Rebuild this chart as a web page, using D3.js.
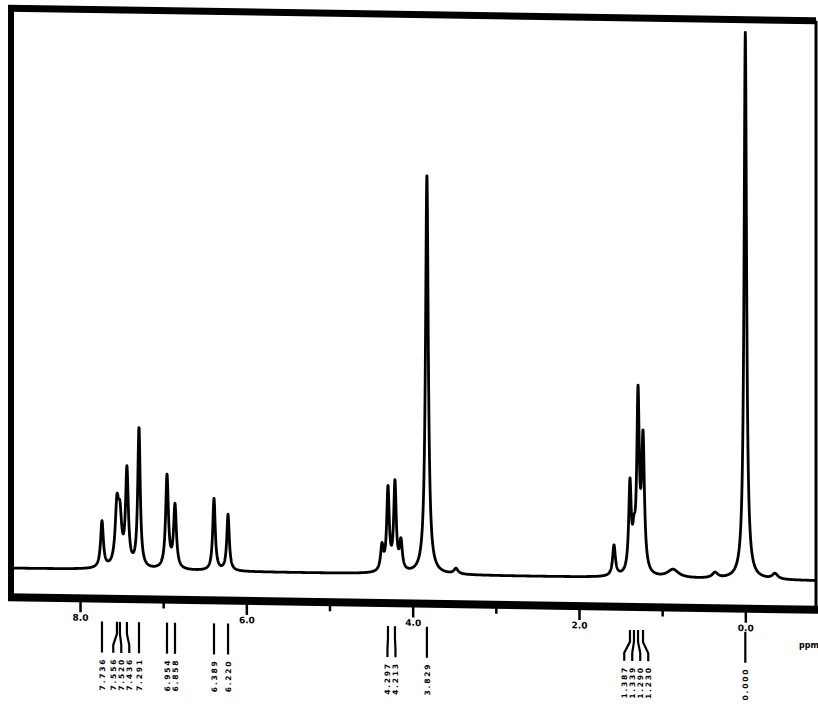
<!DOCTYPE html>
<html>
<head>
<meta charset="utf-8">
<script src="https://cdn.jsdelivr.net/npm/d3@7"></script>
<style>
  body { margin: 0; background: #fff; }
  svg { display: block; }
</style>
</head>
<body>
<div id="chart"></div>
<script>
// peak list (chemical shift, height as % of TMS, half width)
const peakPpm    = [7.736, 7.556, 7.520, 7.436, 7.291, 6.954, 6.858, 6.389, 6.220,
                    4.369, 4.297, 4.213, 4.141, 3.829, 3.479,
                    1.579, 1.387, 1.339, 1.290, 1.230, 0.869, 0.364, 0.000, -0.357];
const peakHeight = [8.5, 10.5, 8, 17.5, 25.5, 17, 11.5, 13.2, 10.3,
                    4.5, 15, 16, 5.2, 73, 1,
                    5.6, 16, 5, 31.5, 24, 1.5, 1, 100, 1];
const peakWidth  = [0.02, 0.025, 0.025, 0.02, 0.018, 0.02, 0.02, 0.018, 0.018,
                    0.02, 0.018, 0.018, 0.02, 0.02, 0.03,
                    0.02, 0.018, 0.02, 0.018, 0.02, 0.08, 0.04, 0.018, 0.04];

// peaks that carry a printed label under the frame
const labelPpm = [7.736, 7.556, 7.520, 7.436, 7.291, 6.954, 6.858, 6.389, 6.220,
                  4.297, 4.213, 3.829, 1.387, 1.339, 1.290, 1.230, 0.000];

const majorTicks = [8, 6, 4, 2, 0];
const minorTicks = [7, 5, 3, 1];

const W = 818, H = 712;

const svg = d3.select("#chart")
  .append("svg")
  .attr("width", W)
  .attr("height", H);

// the scan is slightly skewed, whole sheet drops to the right
const g = svg.append("g")
  .attr("transform", "skewY(0.9)");

const x = d3.scaleLinear()
  .domain([8.83, -0.85])
  .range([11, 816]);

const y = d3.scaleLinear()
  .domain([0, 100])
  .range([568, 21]);

// spectrum = sum of lorentzian lines over the peak list
const step = 0.002;
const pts = d3.range(8.83, -0.85, -step).map(p => {
  let v = 0;
  for (let i = 0; i < peakPpm.length; i++) {
    const d = (p - peakPpm[i]) / peakWidth[i];
    v += peakHeight[i] / (1 + d * d);
  }
  return [p, v];
});

g.append("path")
  .datum(pts)
  .attr("fill", "none")
  .attr("stroke", "#000")
  .attr("stroke-width", 2.8)
  .attr("stroke-linejoin", "round")
  .attr("d", d3.line()
    .x(d => x(d[0]))
    .y(d => y(d[1]))
  );

// frame
const fx0 = 11, fx1 = 816, fy0 = 8, fy1 = 597;
g.append("line").attr("x1", fx0 - 3).attr("x2", fx1).attr("y1", fy0).attr("y2", fy0)
  .attr("stroke", "#000").attr("stroke-width", 7);
g.append("line").attr("x1", fx0).attr("x2", fx0).attr("y1", fy0).attr("y2", fy1)
  .attr("stroke", "#000").attr("stroke-width", 6);
g.append("line").attr("x1", fx0 - 3).attr("x2", fx1 + 2).attr("y1", fy1).attr("y2", fy1)
  .attr("stroke", "#000").attr("stroke-width", 8);
g.append("line").attr("x1", fx1).attr("x2", fx1).attr("y1", fy0).attr("y2", fy1)
  .attr("stroke", "#000").attr("stroke-width", 3);

// ppm axis on the bottom edge
const major = g.append("g")
  .attr("class", "x-axis")
  .attr("transform", "translate(0," + (fy1 + 3) + ")")
  .call(d3.axisBottom(x).tickValues(majorTicks).tickSize(11).tickPadding(2)
    .tickFormat(d3.format(".1f")));
major.select(".domain").remove();
major.selectAll("line").attr("stroke", "#000").attr("stroke-width", 2.5);
major.selectAll("text")
  .attr("font-family", "DejaVu Sans")
  .attr("font-weight", "bold")
  .attr("font-size", 9)
  .attr("fill", "#000");

const minor = g.append("g")
  .attr("transform", "translate(0," + (fy1 + 3) + ")")
  .call(d3.axisBottom(x).tickValues(minorTicks).tickSize(6).tickFormat(""));
minor.select(".domain").remove();
minor.selectAll("line").attr("stroke", "#000").attr("stroke-width", 2.5);

// peak labels, spread apart so they don't collide
const minGap = 8;
const slots = labelPpm.map(p => ({ p: p, px: x(p), lx: x(p) }))
  .sort((a, b) => a.px - b.px);
for (let it = 0; it < 80; it++) {
  for (let i = 1; i < slots.length; i++) {
    const d = slots[i].lx - slots[i - 1].lx;
    if (d < minGap) {
      const s = (minGap - d) / 2;
      slots[i].lx += s;
      slots[i - 1].lx -= s;
    }
  }
}

const lab = g.append("g");
lab.selectAll("path")
  .data(slots)
  .enter()
  .append("path")
  .attr("fill", "none")
  .attr("stroke", "#000")
  .attr("stroke-width", 2.2)
  .attr("d", d => "M" + d.px + ",620 L" + d.px + ",632 L" + d.lx + ",643 L" + d.lx + ",651");

lab.selectAll("text")
  .data(slots)
  .enter()
  .append("text")
  .attr("transform", d => "translate(" + d.lx + ",656) rotate(-90)")
  .attr("text-anchor", "end")
  .attr("dy", "0.35em")
  .attr("font-family", "DejaVu Sans")
  .attr("font-weight", "bold")
  .attr("font-size", 7.5)
  .attr("letter-spacing", 1.8)
  .attr("fill", "#000")
  .text(d => d.p.toFixed(3));

svg.append("text")
  .attr("x", 799)
  .attr("y", 648)
  .attr("font-family", "DejaVu Sans")
  .attr("font-weight", "bold")
  .attr("font-size", 8)
  .text("ppm");
</script>
</body>
</html>
